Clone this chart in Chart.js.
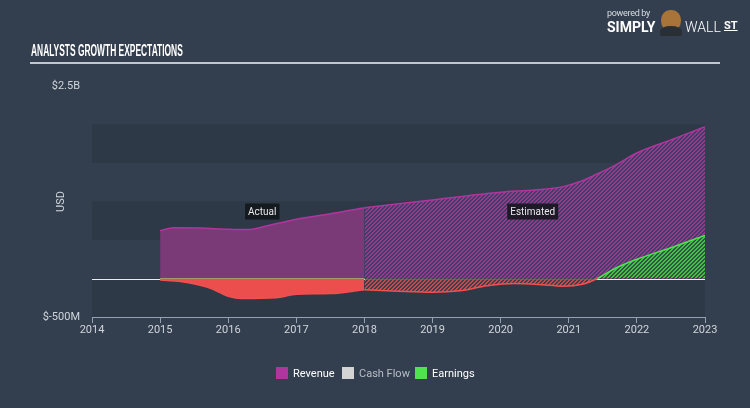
<!DOCTYPE html>
<html>
<head>
<meta charset="utf-8">
<script src="https://cdn.jsdelivr.net/npm/chart.js@4.4.0/dist/chart.umd.min.js"></script>
<style>
  body { margin: 0; background: #333f4e; font-family: Roboto, sans-serif; }
  #box { position: relative; width: 750px; height: 408px; overflow: hidden; }
  #title { position: absolute; left: 31px; top: 42px; color: #fff; font: bold 16px "Liberation Sans Narrow", sans-serif;
           white-space: nowrap; transform-origin: left top; }
  #rule { position: absolute; left: 30px; top: 62px; width: 690px; height: 2px; background: #bfc7d0; }
  .lg { position: absolute; font-size: 11px; color: #fff; white-space: nowrap; }
  .lg i { display: inline-block; width: 12px; height: 12px; vertical-align: -2px; margin-right: 5px; }
  #pow { position: absolute; left: 607px; top: 8px; font-size: 9px; color: #d8dde3; letter-spacing: -0.3px; }
  #simply { position: absolute; left: 607px; top: 19px; font: bold 14px Roboto, sans-serif; color: #fff; }
  #wall { position: absolute; left: 685px; top: 19px; font: 300 14px Roboto, sans-serif; color: #fff; }
  #st { position: absolute; left: 724px; top: 19px; font: bold 11px Roboto, sans-serif; color: #fff; text-decoration: underline; }
  #bull { position: absolute; left: 661px; top: 10px; width: 20px; height: 22px; border-radius: 45% 45% 50% 50%; background: #a8743a; }
  #suit { position: absolute; left: 660px; top: 26px; width: 22px; height: 10px; border-radius: 50% 50% 2px 2px; background: #2a2f36; }
</style>
</head>
<body>
<div id="box">
  <canvas id="chartCanvas" width="750" height="408"></canvas>
  <div id="title">ANALYSTS GROWTH EXPECTATIONS</div>
  <div id="rule"></div>
  <div id="pow">powered by</div>
  <div id="simply">SIMPLY</div>
  <div id="bull"></div><div id="suit"></div>
  <div id="wall">WALL</div>
  <div id="st">ST</div>
  <div id="legend"></div>
</div>
<script>
// values in millions of USD, x in years
const revenueActualYears = [2015, 2015.2, 2015.6, 2016, 2016.3, 2016.5, 2017, 2017.5, 2018];
const revenueActual      = [620, 660, 655, 640, 635, 670, 770, 840, 920];
const revenueEstYears    = [2018, 2019, 2020, 2020.5, 2020.9, 2021.2, 2021.4, 2021.7, 2022, 2022.5, 2023];
const revenueEst         = [920, 1020, 1120, 1150, 1190, 1270, 1350, 1480, 1630, 1800, 1970];

const earningsActualYears = [2015, 2015.3, 2015.7, 2016, 2016.2, 2016.7, 2017, 2017.5, 2018];
const earningsActual      = [-20, -40, -115, -230, -260, -250, -205, -195, -145];
const earningsEstYears    = [2018, 2018.5, 2019, 2019.4, 2019.8, 2020.2, 2020.6, 2020.9, 2021.2, 2021.42, 2021.7, 2022, 2022.5, 2023];
const earningsEst         = [-145, -165, -178, -160, -95, -65, -80, -100, -75, 0, 140, 250, 400, 560];

const cashFlowYears = [2015, 2018];
const cashFlow      = [0, 0];

const xTicks = [2014, 2015, 2016, 2017, 2018, 2019, 2020, 2021, 2022, 2023];
const yMin = -500, yMax = 2500;
const yTickLabels = { '2500': '$2.5B', '-500': '$-500M' };

const legendNames  = ['Revenue', 'Cash Flow', 'Earnings'];
const legendColors = ['#b0359f', '#d4d4d4', '#4ee44e'];

const RED = '#f0504f', GREEN = '#4ee44e';

function pts(xs, ys) { return xs.map((x, i) => ({ x: x, y: ys[i] })); }

// pixel diagonal stripes, 2px on / 2px off
function hatch(bg, fg) {
    const c = document.createElement('canvas');
    c.width = 4; c.height = 4;
    const g = c.getContext('2d');
    for (let i = 0; i < 4; i++) {
        for (let j = 0; j < 4; j++) {
            g.fillStyle = ((i + j) % 4 < 2) ? fg : bg;
            g.fillRect(i, j, 1, 1);
        }
    }
    return g.createPattern(c, 'repeat');
}

const purpleHatch = hatch('rgba(62,66,104,0.85)', '#993890');
const redHatch = hatch('rgba(62,62,84,0.85)', '#c84a4a');
const greenHatch = hatch('#34524a', '#40c440');

const signColor = c => (c.p0.parsed.y + c.p1.parsed.y < 0 ? RED : GREEN);

// bands + zero line + labels
const decor = {
    id: 'decor',
    beforeDatasetsDraw(chart) {
        const { ctx, chartArea: a, scales: { y } } = chart;
        ctx.save();
        ctx.fillStyle = '#2d3946';
        for (let v = yMin; v < yMax; v += 1000) {
            const t = y.getPixelForValue(v + 500), b = y.getPixelForValue(v);
            ctx.fillRect(a.left, t, a.right - a.left, b - t);
        }
        ctx.strokeStyle = 'rgba(255,255,255,0.9)';
        ctx.lineWidth = 1;
        const z = Math.round(y.getPixelForValue(0)) + 0.5;
        ctx.beginPath(); ctx.moveTo(a.left, z); ctx.lineTo(a.right, z); ctx.stroke();
        ctx.restore();
    },
    afterDraw(chart) {
        const { ctx, chartArea: a, scales: { x, y } } = chart;
        ctx.save();
        ctx.font = '10px Roboto';
        ctx.textAlign = 'center'; ctx.textBaseline = 'middle';
        [['Actual', 2016.5], ['Estimated', 2020.47]].forEach(([t, yr]) => {
            const px = x.getPixelForValue(yr), py = y.getPixelForValue(870);
            const w = ctx.measureText(t).width + 6;
            ctx.fillStyle = 'rgba(18,20,26,0.85)';
            ctx.fillRect(px - w / 2, py - 8, w, 16);
            ctx.fillStyle = '#e8e8e8';
            ctx.fillText(t, px, py + 0.5);
        });
        ctx.translate(61, (a.top + a.bottom) / 2);
        ctx.rotate(-Math.PI / 2);
        ctx.font = '11px Roboto';
        ctx.fillStyle = '#d0d5db';
        ctx.fillText('USD', 0, 0);
        ctx.restore();
    }
};

const ctx = document.getElementById('chartCanvas').getContext('2d');
window.myChart = new Chart(ctx, {
    type: 'line',
    data: {
        datasets: [
            { label: 'Revenue', data: pts(revenueActualYears, revenueActual), order: 3,
              borderColor: '#b0359f', borderWidth: 1.5, backgroundColor: '#7a3a77',
              fill: 'origin', pointRadius: 0, cubicInterpolationMode: 'monotone' },
            { label: 'Revenue est', data: pts(revenueEstYears, revenueEst), order: 3,
              borderColor: '#b0359f', borderWidth: 1.5, backgroundColor: purpleHatch,
              fill: 'origin', pointRadius: 0, cubicInterpolationMode: 'monotone' },
            { label: 'Cash Flow', data: pts(cashFlowYears, cashFlow), order: 0,
              borderColor: 'rgba(170,170,120,0.8)', borderWidth: 1, fill: false, pointRadius: 0 },
            { label: 'Earnings', data: pts(earningsActualYears, earningsActual), order: 1,
              borderColor: RED, borderWidth: 1.5, segment: { borderColor: signColor },
              fill: { target: 'origin', above: GREEN, below: '#ec4e4e' },
              pointRadius: 0, cubicInterpolationMode: 'monotone' },
            { label: 'Earnings est', data: pts(earningsEstYears, earningsEst), order: 1,
              borderColor: RED, borderWidth: 1.5, segment: { borderColor: signColor },
              fill: { target: 'origin', above: greenHatch, below: redHatch },
              pointRadius: 0, cubicInterpolationMode: 'monotone' }
        ]
    },
    options: {
        responsive: false,
        animation: false,
        layout: { padding: { left: 0, right: 45, top: 86, bottom: 61 } },
        plugins: { legend: { display: false }, tooltip: { enabled: false } },
        scales: {
            x: {
                type: 'linear', min: 2014, max: 2023,
                afterBuildTicks: s => { s.ticks = xTicks.map(v => ({ value: v })); },
                afterFit: s => { s.height = 30; },
                ticks: { color: '#d0d5db', font: { family: 'Roboto', size: 11 }, padding: 1, maxRotation: 0,
                         callback: v => String(v) },
                grid: { display: true, drawOnChartArea: false, drawTicks: true, tickLength: 6, color: '#93a2b3' },
                border: { display: true, color: '#93a2b3', width: 1 }
            },
            y: {
                min: yMin, max: yMax,
                afterFit: s => { s.width = 92; },
                ticks: { stepSize: 500, color: '#d0d5db', font: { family: 'Roboto', size: 11 }, padding: 12,
                         callback: v => yTickLabels[String(v)] || '' },
                grid: { display: false, drawTicks: false },
                border: { display: false }
            }
        }
    },
    plugins: [decor]
});

// title squeezed to condensed width
const title = document.getElementById('title');
title.style.transform = 'scaleX(' + (152 / title.offsetWidth) + ')';

// legend
const lg = document.getElementById('legend');
const legendX = [276, 342, 415];
legendNames.forEach((n, i) => {
    const d = document.createElement('div');
    d.className = 'lg';
    d.style.left = legendX[i] + 'px';
    d.style.top = '367px';
    if (n === 'Cash Flow') d.style.color = '#b8bec6';
    d.innerHTML = '<i style="background:' + legendColors[i] + '"></i>' + n;
    lg.appendChild(d);
});
</script>
</body>
</html>
